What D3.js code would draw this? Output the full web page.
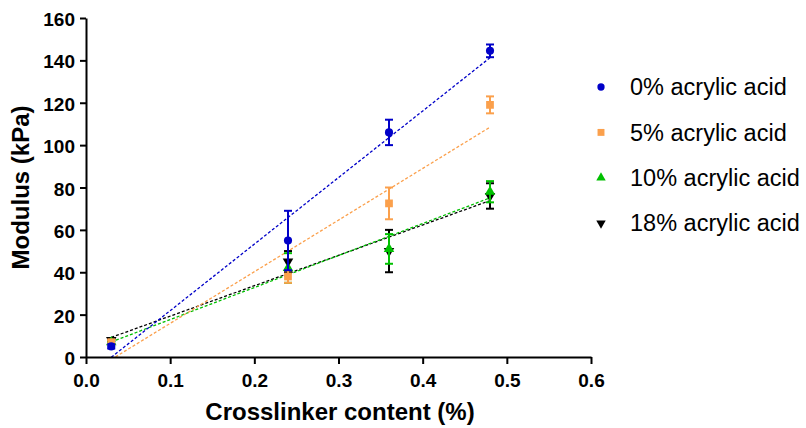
<!DOCTYPE html>
<html>
<head>
<meta charset="utf-8">
<script src="https://cdn.jsdelivr.net/npm/d3@7"></script>
<style>
    body { margin: 0; background: #fff; }
    svg text { font-family: Arial, "Liberation Sans", sans-serif; }
</style>
</head>
<body>
<div id="chart"></div>
<script>
// Data
const crosslinker = [0.03, 0.24, 0.36, 0.48];
const seriesNames = ["0% acrylic acid", "5% acrylic acid", "10% acrylic acid", "18% acrylic acid"];
const modulus0 = [5, 55, 106, 144.5];
const modulus5 = [7, 38, 72.5, 119];
const modulus10 = [7, 42, 51, 78];
const modulus18 = [8, 45, 50, 76];
const sd0 = [1, 14, 6, 3];
const sd5 = [1, 3, 7.5, 4];
const sd10 = [0.5, 7, 7, 5];
const sd18 = [0.5, 5, 10, 6];
const xTicks = [0, 0.1, 0.2, 0.3, 0.4, 0.5, 0.6];
const yTicks = [0, 20, 40, 60, 80, 100, 120, 140, 160];

// Global configuration
const config = {
    width: 806,
    height: 428,
    left: 86,
    right: 591,
    top: 18,
    bottom: 357,
    colors: ["#0000c8", "#fba04c", "#00c000", "#000000"],
    legendX: 601,
    legendY: 87,
    legendStep: 45.4
};

const series = [
    { name: seriesNames[0], values: modulus0, sd: sd0, symbol: d3.symbolCircle, size: 52, rotate: 0 },
    { name: seriesNames[1], values: modulus5, sd: sd5, symbol: d3.symbolSquare, size: 60, rotate: 0 },
    { name: seriesNames[2], values: modulus10, sd: sd10, symbol: d3.symbolTriangle, size: 48, rotate: 0 },
    { name: seriesNames[3], values: modulus18, sd: sd18, symbol: d3.symbolTriangle, size: 48, rotate: 180 }
];
series.forEach((s, i) => s.color = config.colors[i]);

const scales = {
    x: d3.scaleLinear().domain([0, 0.6]).range([config.left, config.right]),
    y: d3.scaleLinear().domain([0, 160]).range([config.bottom, config.top])
};

// Least squares fit of the means (the dashed lines)
function linearFit(xs, ys) {
    const mx = d3.mean(xs), my = d3.mean(ys);
    const sxy = d3.sum(xs, (x, i) => (x - mx) * (ys[i] - my));
    const sxx = d3.sum(xs, x => (x - mx) * (x - mx));
    const slope = sxy / sxx;
    return { slope: slope, intercept: my - slope * mx };
}

const svg = d3.select("#chart").append("svg")
    .attr("width", config.width)
    .attr("height", config.height);

svg.append("defs").append("clipPath").attr("id", "plotClip")
    .append("rect")
    .attr("x", config.left)
    .attr("y", config.top)
    .attr("width", config.right - config.left)
    .attr("height", config.bottom - config.top);

// Regression lines
const fitLayer = svg.append("g").attr("clip-path", "url(#plotClip)");
series.slice().reverse().forEach(s => {
    const fit = linearFit(crosslinker, s.values);
    const x0 = crosslinker[0], x1 = crosslinker[crosslinker.length - 1];
    fitLayer.append("line")
        .attr("x1", scales.x(x0))
        .attr("y1", scales.y(fit.intercept + fit.slope * x0))
        .attr("x2", scales.x(x1))
        .attr("y2", scales.y(fit.intercept + fit.slope * x1))
        .attr("stroke", s.color)
        .attr("stroke-width", 1.3)
        .attr("stroke-dasharray", "3,2");
});

// Error bars and markers, last series underneath
const capHalf = 4;
series.slice().reverse().forEach(s => {
    const g = svg.append("g");
    crosslinker.forEach((x, i) => {
        const cx = scales.x(x);
        const yHi = scales.y(s.values[i] + s.sd[i]);
        const yLo = scales.y(Math.max(0, s.values[i] - s.sd[i]));
        g.append("line").attr("x1", cx).attr("x2", cx).attr("y1", yHi).attr("y2", yLo)
            .attr("stroke", s.color).attr("stroke-width", 2);
        [yHi, yLo].forEach(yy => {
            g.append("line").attr("x1", cx - capHalf).attr("x2", cx + capHalf).attr("y1", yy).attr("y2", yy)
                .attr("stroke", s.color).attr("stroke-width", 2);
        });
    });
    g.selectAll("path.marker")
        .data(s.values)
        .enter().append("path")
        .attr("class", "marker")
        .attr("d", d3.symbol().type(s.symbol).size(s.size))
        .attr("transform", (d, i) => `translate(${scales.x(crosslinker[i])},${scales.y(d)}) rotate(${s.rotate})`)
        .attr("fill", s.color);
});

// Axes
const xAxis = svg.append("g")
    .attr("transform", `translate(0,${config.bottom})`)
    .call(d3.axisBottom(scales.x).tickValues(xTicks).tickFormat(d3.format(".1f")).tickSize(7).tickSizeOuter(0));
const yAxis = svg.append("g")
    .attr("transform", `translate(${config.left},0)`)
    .call(d3.axisLeft(scales.y).tickValues(yTicks).tickSize(6).tickSizeOuter(0));

[xAxis, yAxis].forEach(ax => {
    ax.select(".domain").attr("stroke", "#000").attr("stroke-width", 2);
    ax.selectAll(".tick line").attr("stroke", "#000").attr("stroke-width", 2);
    ax.selectAll(".tick text")
        .attr("fill", "#000")
        .style("font-size", "19px")
        .style("font-weight", "bold");
});
xAxis.selectAll(".tick text").attr("y", 10).attr("dy", "1.05em");
yAxis.selectAll(".tick text").attr("x", -11).attr("dy", "0.4em");

// Axis titles
svg.append("text")
    .attr("x", 340)
    .attr("y", 420)
    .attr("text-anchor", "middle")
    .style("font-size", "24px")
    .style("font-weight", "bold")
    .text("Crosslinker content (%)");

svg.append("text")
    .attr("transform", `translate(29,${(config.top + config.bottom) / 2}) rotate(-90)`)
    .attr("text-anchor", "middle")
    .style("font-size", "24px")
    .style("font-weight", "bold")
    .text("Modulus (kPa)");

// Legend
const legend = svg.append("g");
series.forEach((s, i) => {
    const ly = config.legendY + i * config.legendStep;
    legend.append("path")
        .attr("d", d3.symbol().type(s.symbol).size(s.size * 0.8))
        .attr("transform", `translate(${config.legendX},${ly}) rotate(${s.rotate})`)
        .attr("fill", s.color);
    legend.append("text")
        .attr("x", config.legendX + 29)
        .attr("y", ly)
        .attr("dy", "0.35em")
        .style("font-size", "23.5px")
        .text(s.name);
});
</script>
</body>
</html>
